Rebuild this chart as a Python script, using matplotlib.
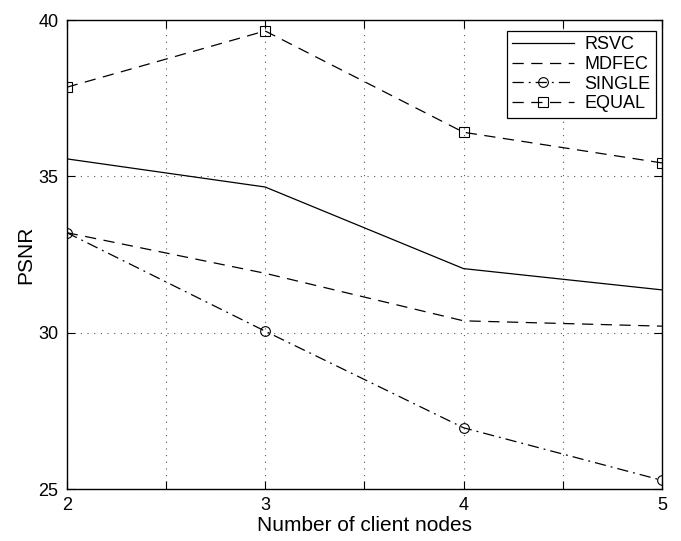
import matplotlib
matplotlib.use('Agg')
import matplotlib.pyplot as plt

#--data
nodes=[2,3,4,5]
rsvc=[35.56,34.66,32.05,31.37]
mdfec=[33.2,31.9,30.38,30.21]
single=[33.2,30.05,26.96,25.28]
equal=[37.85,39.65,36.41,35.43]

plt.rcParams['font.family']=['Liberation Sans','DejaVu Sans']

fig=plt.figure(figsize=(6.81,5.41),dpi=100)
ax=fig.add_axes([0.098,0.096,0.874,0.867])

lw=0.9
ax.plot(nodes,rsvc,c='k',lw=lw,ls='-',label='RSVC')
ax.plot(nodes,mdfec,c='k',lw=lw,ls=(0,(9,6)),label='MDFEC')
ax.plot(nodes,single,c='k',lw=lw,ls=(0,(9,4,1.5,4)),marker='o',ms=7,mfc='none',mew=0.8,label='SINGLE')
ax.plot(nodes,equal,c='k',lw=lw,ls=(0,(9,6)),marker='s',ms=7,mfc='none',mew=0.8,label='EQUAL')

ax.set_xlim(2,5)
ax.set_ylim(25,40)
ax.set_xticks([2,2.5,3,3.5,4,4.5,5])
ax.set_xticklabels(['2','','3','','4','','5'])
ax.set_yticks([25,30,35,40])
ax.tick_params(direction='in',top=True,right=True,length=6,width=0.8,labelsize=13,pad=6)
for s in ax.spines.values():
  s.set_linewidth(1.0)
ax.grid(True,ls=(0,(1,5)),c='0.35',lw=0.8)

ax.set_xlabel('Number of client nodes',fontsize=15,labelpad=1)
ax.set_ylabel('PSNR',fontsize=15,labelpad=2)

leg=ax.legend(loc='upper right',bbox_to_anchor=(0.99,0.977),borderaxespad=0,fontsize=13,
              fancybox=False,framealpha=1,edgecolor='k',handlelength=3.4,
              labelspacing=0.15,borderpad=0.3,handletextpad=0.6)
leg.get_frame().set_linewidth(0.9)

fig.savefig('out.png',dpi=100)
